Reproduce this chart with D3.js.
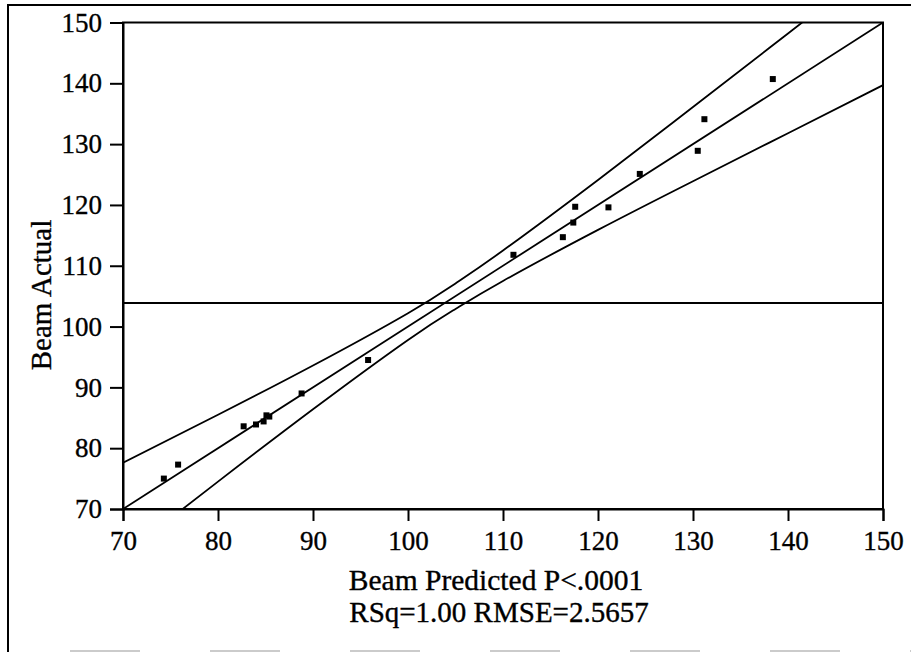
<!DOCTYPE html>
<html>
<head>
<meta charset="utf-8">
<script src="https://cdn.jsdelivr.net/npm/d3@7"></script>
<style>
  body { margin: 0; background: #fff; }
  svg { display: block; }
  svg text { font-family: "Liberation Serif", "Times New Roman", serif; fill: #000; stroke: #000; stroke-width: 0.35px; }
</style>
</head>
<body>
<div id="chart"></div>
<script>
// observed vs predicted beam values
const predicted = [74.3, 75.8, 82.7, 84.0, 84.8, 85.1, 85.4, 88.8, 95.8, 111.1, 116.3, 117.4, 117.6, 121.1, 124.4, 130.5, 131.2, 138.4];
const actual    = [75.0, 77.3, 83.6, 83.9, 84.4, 85.4, 85.2, 89.0, 94.5, 111.8, 114.7, 117.1, 119.7, 119.6, 125.1, 128.9, 134.1, 140.7];

// fitted line end points (actual = predicted)
const fitX = [70, 150];
const fitY = [70, 150];

// confidence curves around the fit
const bandX     = [70, 80, 90, 100, 105, 110, 120, 130, 140, 150];
const bandUpper = [77.6, 85.5, 93.6, 102.2, 107.1, 112.5, 124.1, 136.1, 148.2, 160.3];
const bandLower = [62.4, 74.5, 86.4, 97.8, 102.9, 107.5, 115.9, 123.9, 131.8, 139.7];

const ticks = [70, 80, 90, 100, 110, 120, 130, 140, 150];
const xTitle = "Beam Predicted P<.0001";
const statsLine = "RSq=1.00 RMSE=2.5657";
const yTitle = "Beam Actual";

const W = 911, H = 653;
const margin = {top: 22.5, right: 28, bottom: 144, left: 123};
const width = W - margin.left - margin.right;
const height = H - margin.top - margin.bottom;

const svg = d3.select("#chart").append("svg")
  .attr("width", W)
  .attr("height", H);

// outer frame (runs off the right edge)
svg.append("rect")
  .attr("x", 8).attr("y", 5)
  .attr("width", W + 20).attr("height", 646)
  .attr("fill", "none")
  .attr("stroke", "#000")
  .attr("stroke-width", 2);
// faded bottom edge
svg.append("line")
  .attr("x1", 9).attr("x2", W)
  .attr("y1", 651).attr("y2", 651)
  .attr("stroke", "#fff").attr("stroke-width", 3);
svg.append("line")
  .attr("x1", 70).attr("x2", W)
  .attr("y1", 651).attr("y2", 651)
  .attr("stroke", "#bbb").attr("stroke-width", 1.5)
  .attr("stroke-dasharray", "70,70");

const g = svg.append("g")
  .attr("transform", `translate(${margin.left},${margin.top})`);

const xs = d3.scaleLinear().domain([70, 150]).range([0, width]);
const ys = d3.scaleLinear().domain([70, 150]).range([height, 0]);

g.append("clipPath").attr("id", "plot-clip")
  .append("rect").attr("width", width).attr("height", height);

// plot box
g.append("rect")
  .attr("width", width).attr("height", height)
  .attr("fill", "none")
  .attr("stroke", "#000")
  .attr("stroke-width", 2);

// axes
const xAxis = g.append("g")
  .attr("transform", `translate(0,${height})`)
  .call(d3.axisBottom(xs).tickValues(ticks).tickSize(12).tickPadding(10));
const yAxis = g.append("g")
  .call(d3.axisLeft(ys).tickValues(ticks).tickSize(13).tickPadding(8));

[xAxis, yAxis].forEach(ax => {
  ax.attr("font-family", null).attr("font-size", null);
  ax.select(".domain").attr("stroke-width", 2);
  ax.selectAll(".tick line").attr("stroke-width", 2);
  ax.selectAll(".tick text")
    .attr("style", "font-family: 'Liberation Serif', serif; font-size: 27px");
});

const plot = g.append("g").attr("clip-path", "url(#plot-clip)");

// horizontal line at mean of actual
const meanY = d3.mean(actual);
plot.append("line")
  .attr("x1", 0).attr("x2", width)
  .attr("y1", ys(meanY)).attr("y2", ys(meanY))
  .attr("stroke", "#000").attr("stroke-width", 2);

// fit line
const line = d3.line().x(d => xs(d[0])).y(d => ys(d[1]));
plot.append("path")
  .attr("d", line(d3.zip(fitX, fitY)))
  .attr("fill", "none").attr("stroke", "#000").attr("stroke-width", 1.8);

// confidence curves
const curve = d3.line().x(d => xs(d[0])).y(d => ys(d[1])).curve(d3.curveNatural);
[bandUpper, bandLower].forEach(b => {
  plot.append("path")
    .attr("d", curve(d3.zip(bandX, b)))
    .attr("fill", "none").attr("stroke", "#000").attr("stroke-width", 1.8);
});

// points
const sq = 6;
g.selectAll("rect.pt")
  .data(d3.zip(predicted, actual))
  .enter().append("rect")
  .attr("class", "pt")
  .attr("x", d => xs(d[0]) - sq / 2)
  .attr("y", d => ys(d[1]) - sq / 2)
  .attr("width", sq).attr("height", sq)
  .attr("fill", "#000");

// titles
svg.append("text")
  .attr("x", 496).attr("y", 590)
  .attr("text-anchor", "middle")
  .style("font-size", "29.5px")
  .text(xTitle);
svg.append("text")
  .attr("x", 499).attr("y", 622)
  .attr("text-anchor", "middle")
  .style("font-size", "29px")
  .text(statsLine);
svg.append("text")
  .attr("transform", "rotate(-90)")
  .attr("x", -295).attr("y", 51)
  .attr("text-anchor", "middle")
  .style("font-size", "29px")
  .text(yTitle);
</script>
</body>
</html>
